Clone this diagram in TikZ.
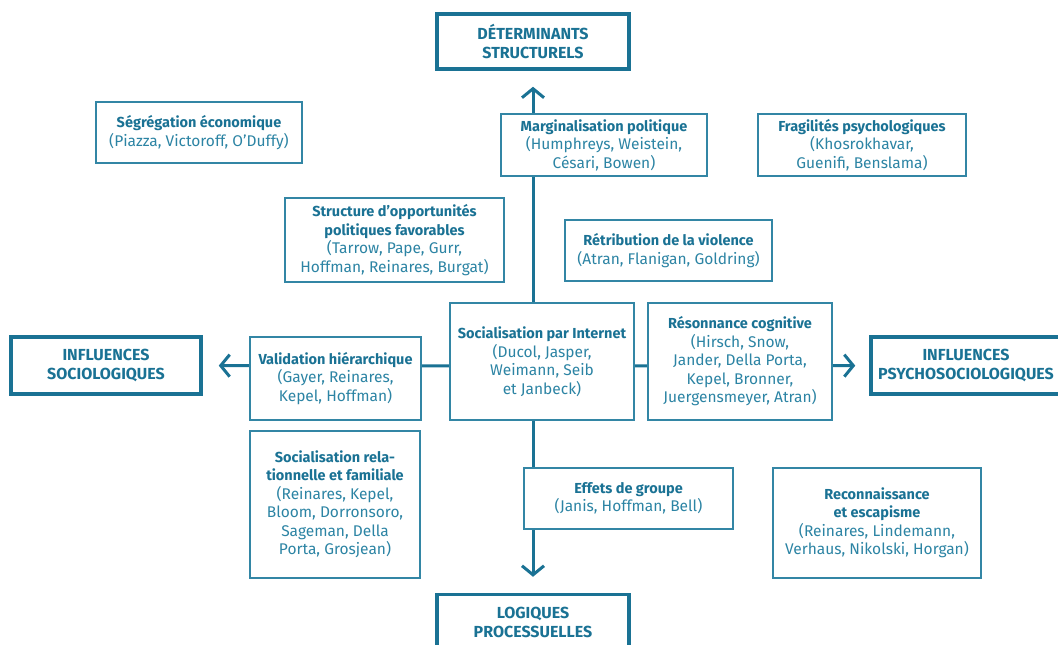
\documentclass[tikz,border=0pt]{standalone}
\usepackage{fontspec}
\setmainfont{Fira Sans}
\usepackage{tikz}
\usetikzlibrary{arrows.meta}
\definecolor{petrol}{HTML}{1A7294}
\definecolor{petrolline}{HTML}{3386A5}
\definecolor{petroltext}{HTML}{2C84A4}
\newcommand{\hd}[1]{{\fontsize{14.5}{18.5}\selectfont\bfseries\color{petrol}#1}}

\begin{document}
\begin{tikzpicture}[x=1pt,y=-1pt,
	ref/.style={draw=petrolline,line width=1.4pt,fill=white,align=center,text=petroltext,font=\fontsize{15.5}{18.5}\selectfont,inner sep=0pt},
	pole/.style={draw=petrol,line width=3.5pt,fill=white,align=center,text=petrol,font=\bfseries\fontsize{16}{19}\selectfont,inner sep=0pt,minimum width=192pt,minimum height=55pt},
	axis/.style={draw=petrol,line width=3pt},
	arr/.style={axis,-{Straight Barb[length=9pt,width=22pt]},shorten >=16pt}]
	\useasboundingbox (0,0) rectangle (1058,645);
	\node[pole] (det) at (533,41.5) {DÉTERMINANTS\\STRUCTURELS};
	\node[pole] (logi) at (533,622) {LOGIQUES\\PROCESSUELLES};
	\node[pole,minimum width=190pt,minimum height=57pt] (isoc) at (106,365.5) {INFLUENCES\\SOCIOLOGIQUES};
	\node[pole,minimum width=190pt,minimum height=57pt] (ipsy) at (966,365.5) {INFLUENCES\\PSYCHOSOCIOLOGIQUES};
	\coordinate (hub) at (533,366);
	\draw[arr] (hub) -- (det);
	\draw[arr] (hub) -- (logi);
	\draw[arr] (hub) -- (isoc);
	\draw[arr,shorten >=14pt] (hub) -- (ipsy);
	\node[ref,minimum width=206pt,minimum height=61pt] (segr) at (199,132.5) {\hd{Ségrégation économique}\\(Piazza, Victoroff, O’Duffy)};
	\node[ref,minimum width=206pt,minimum height=62pt] (marg) at (604,145) {\hd{Marginalisation politique}\\(Humphreys, Weistein,\\Césari, Bowen)};
	\node[ref,minimum width=208pt,minimum height=62pt] (frag) at (862,145) {\hd{Fragilités psychologiques}\\(Khosrokhavar,\\Guenifi, Benslama)};
	\node[ref,minimum width=219pt,minimum height=84pt] (oppo) at (394.5,240) {\hd{Structure d’opportunités}\\\hd{politiques favorables}\\(Tarrow, Pape, Gurr,\\Hoffman, Reinares, Burgat)};
	\node[ref,minimum width=207pt,minimum height=61pt] (retr) at (668.5,250.5) {\hd{Rétribution de la violence}\\(Atran, Flanigan, Goldring)};
	\node[ref,minimum width=184pt,minimum height=117pt] (inet) at (542,361.5) {\hd{Socialisation par Internet}\\(Ducol, Jasper,\\Weimann, Seib\\et Janbeck)};
	\node[ref,minimum width=171pt,minimum height=83pt] (valid) at (335.5,378.5) {\hd{Validation hiérarchique}\\(Gayer, Reinares,\\Kepel, Hoffman)};
	\node[ref,minimum width=184pt,minimum height=117pt] (reson) at (740,361.5) {\hd{Résonnance cognitive}\\(Hirsch, Snow,\\Jander, Della Porta,\\Kepel, Bronner,\\Juergensmeyer, Atran)};
	\node[ref,minimum width=170pt,minimum height=147pt] (relat) at (335,504.5) {\hd{Socialisation rela-}\\\hd{tionnelle et familiale}\\(Reinares, Kepel,\\Bloom, Dorronsoro,\\Sageman, Della\\Porta, Grosjean)};
	\node[ref,minimum width=209pt,minimum height=61pt] (effet) at (628.5,498.5) {\hd{Effets de groupe}\\(Janis, Hoffman, Bell)};
	\node[ref,minimum width=208pt,minimum height=110pt] (recon) at (877,523) {\hd{Reconnaissance}\\\hd{et escapisme}\\(Reinares, Lindemann,\\Verhaus, Nikolski, Horgan)};
\end{tikzpicture}
\end{document}
